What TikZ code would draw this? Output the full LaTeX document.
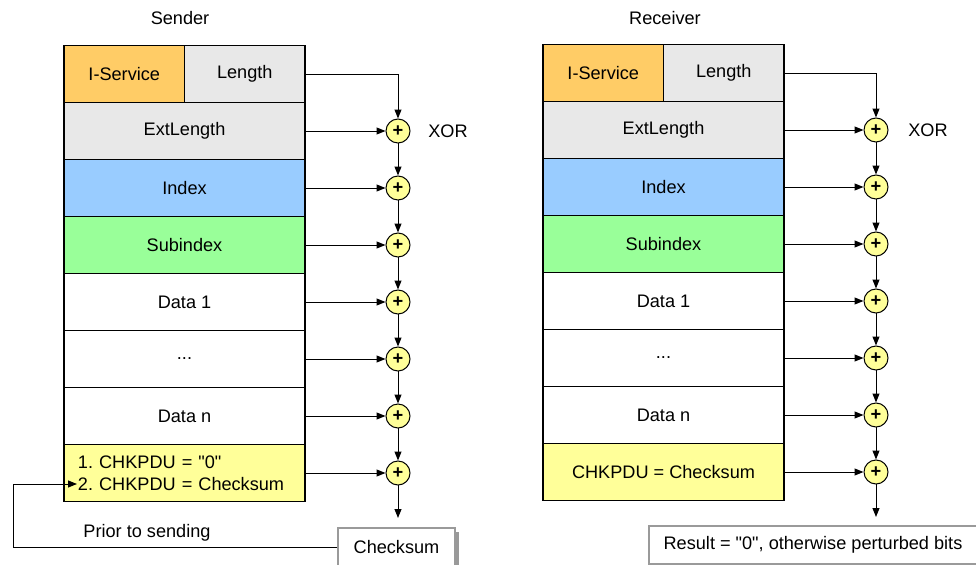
\documentclass[tikz,border=0pt]{standalone}
\usepackage{fontspec}
\setmainfont{Liberation Sans}[Ligatures=TeXOff]
\usepackage{xcolor}
\usetikzlibrary{positioning,arrows.meta,shadows}
\definecolor{isvorange}{HTML}{FFCC66}
\definecolor{lenggray}{HTML}{E8E8E8}
\definecolor{idxblue}{HTML}{99CCFF}
\definecolor{subgreen}{HTML}{99FF99}
\definecolor{chkyellow}{HTML}{FFFF99}
\definecolor{boxgray}{HTML}{9A9A9A}
\frenchspacing

\begin{document}
\begin{tikzpicture}[x=0.025cm,y=-0.025cm,font=\fontsize{12.9}{15.6}\selectfont,
  cell/.style={draw,line width=0.8pt,minimum width=6.025cm,minimum height=1.425cm,inner sep=0pt,fill=#1},
  cell/.default=white,
  half/.style={cell=#1,minimum width=3.0125cm},
  xor/.style={circle,draw,line width=0.7pt,fill=chkyellow,minimum size=0.6cm,inner sep=0pt,font=\fontsize{13}{13}\selectfont\bfseries},
  outbox/.style={draw=boxgray,line width=0.8pt,fill=white,minimum height=0.95cm,inner sep=0pt,
    drop shadow={opacity=1,fill=gray!80,shadow xshift=0.1cm,shadow yshift=-0.1cm}},
  ar/.style={-{Triangle[length=2.2mm,width=1.7mm]},line width=0.7pt}]
\useasboundingbox (0,0) rectangle (976,565);

% sender
\node (sTitle) at (180,18) {Sender};
\node[half=isvorange] (sIsv) at (124.25,74) {I-Service};
\node[half=lenggray] (sLen) at (244.75,74) {Length};
\node[cell=lenggray] (sExt) at (184.5,131) {ExtLength};
\node[cell=idxblue] (sIdx) at (184.5,188) {Index};
\node[cell=subgreen] (sSub) at (184.5,245) {Subindex};
\node[cell] (sD1) at (184.5,302) {Data 1};
\node[cell] (sDots) at (184.5,359) {...};
\node[cell] (sDn) at (184.5,416) {Data n};
\node[cell=chkyellow,align=left,text width=5.325cm,inner xsep=0.35cm] (sChk) at (184.5,473) {1. CHKPDU = "0"\\2. CHKPDU = Checksum};

\node[xor] (sx1) at (398,131) {+};
\node[xor] (sx2) at (398,188) {+};
\node[xor] (sx3) at (398,245) {+};
\node[xor] (sx4) at (398,302) {+};
\node[xor] (sx5) at (398,359) {+};
\node[xor] (sx6) at (398,416) {+};
\node[xor] (sx7) at (398,473) {+};
\node (sXor) at (448,131) {XOR};
\coordinate (sEnd) at (398,518);

\draw[ar] (sLen.east) -| (sx1);
\draw[ar] (sExt.east) -- (sx1);
\draw[ar] (sIdx.east) -- (sx2);
\draw[ar] (sSub.east) -- (sx3);
\draw[ar] (sD1.east) -- (sx4);
\draw[ar] (sDots.east) -- (sx5);
\draw[ar] (sDn.east) -- (sx6);
\draw[ar] (sChk.east) -- (sx7);
\draw[ar] (sx1) -- (sx2);
\draw[ar] (sx2) -- (sx3);
\draw[ar] (sx3) -- (sx4);
\draw[ar] (sx4) -- (sx5);
\draw[ar] (sx5) -- (sx6);
\draw[ar] (sx6) -- (sx7);
\draw[ar] (sx7) -- (sEnd);

\node[outbox,minimum width=2.925cm] (sSum) at (396.5,547) {Checksum};
\coordinate (sLoop) at (13,484);
\coordinate (sIn) at (77,484);
\draw[ar] (sSum.west) -| (sLoop) -- (sIn);
\node (sPrior) at (147,533) {Prior to sending};

% receiver
\node (rTitle) at (665,18) {Receiver};
\node[half=isvorange] (rIsv) at (603.25,73) {I-Service};
\node[half=lenggray] (rLen) at (723.75,73) {Length};
\node[cell=lenggray] (rExt) at (663.5,130) {ExtLength};
\node[cell=idxblue] (rIdx) at (663.5,187) {Index};
\node[cell=subgreen] (rSub) at (663.5,244) {Subindex};
\node[cell] (rD1) at (663.5,301) {Data 1};
\node[cell] (rDots) at (663.5,358) {...};
\node[cell] (rDn) at (663.5,415) {Data n};
\node[cell=chkyellow] (rChk) at (663.5,472) {CHKPDU = Checksum};

\node[xor] (rx1) at (876,130) {+};
\node[xor] (rx2) at (876,187) {+};
\node[xor] (rx3) at (876,244) {+};
\node[xor] (rx4) at (876,301) {+};
\node[xor] (rx5) at (876,358) {+};
\node[xor] (rx6) at (876,415) {+};
\node[xor] (rx7) at (876,472) {+};
\node (rXor) at (928,130) {XOR};
\coordinate (rEnd) at (876,517);

\draw[ar] (rLen.east) -| (rx1);
\draw[ar] (rExt.east) -- (rx1);
\draw[ar] (rIdx.east) -- (rx2);
\draw[ar] (rSub.east) -- (rx3);
\draw[ar] (rD1.east) -- (rx4);
\draw[ar] (rDots.east) -- (rx5);
\draw[ar] (rDn.east) -- (rx6);
\draw[ar] (rChk.east) -- (rx7);
\draw[ar] (rx1) -- (rx2);
\draw[ar] (rx2) -- (rx3);
\draw[ar] (rx3) -- (rx4);
\draw[ar] (rx4) -- (rx5);
\draw[ar] (rx5) -- (rx6);
\draw[ar] (rx6) -- (rx7);
\draw[ar] (rx7) -- (rEnd);

\node[outbox,minimum width=8.2cm] (rRes) at (813,545) {Result = "0", otherwise perturbed bits};
\end{tikzpicture}
\end{document}
